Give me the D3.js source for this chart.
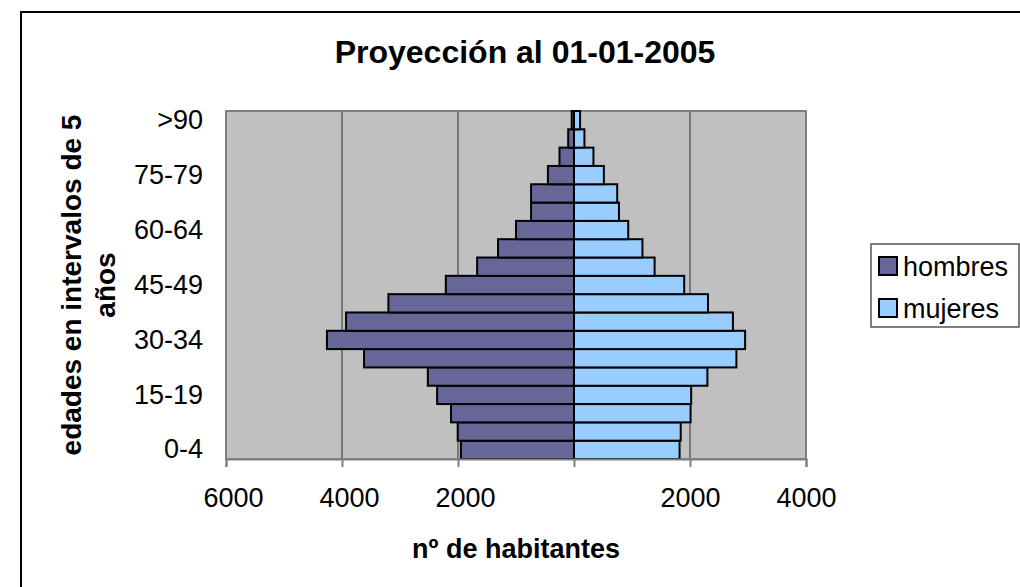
<!DOCTYPE html>
<html>
<head>
<meta charset="utf-8">
<script src="https://cdn.jsdelivr.net/npm/d3@7"></script>
<style>
  body { margin: 0; background: #fff; }
  svg { display: block; font-family: Arial, "Liberation Sans", sans-serif; }
</style>
</head>
<body>
<svg></svg>
<script>
// age groups, from the bottom of the pyramid up
const ages = ["0-4", "5-9", "10-14", "15-19", "20-24", "25-29", "30-34", "35-39", "40-44",
  "45-49", "50-54", "55-59", "60-64", "65-69", "70-74", "75-79", "80-84", "85-89", ">90"];
const hombres = [1950, 2005, 2120, 2360, 2520, 3620, 4260, 3930, 3200, 2210,
  1670, 1310, 1000, 740, 740, 450, 250, 100, 40];
const mujeres = [1820, 1840, 2010, 2020, 2300, 2800, 2950, 2740, 2310, 1900,
  1390, 1180, 935, 775, 745, 515, 335, 180, 105];
const xTicks = [-6000, -4000, -2000, 0, 2000, 4000];
const yLabels = ["0-4", "15-19", "30-34", "45-49", "60-64", "75-79", ">90"];
const series = ["hombres", "mujeres"];

const W = 1020, H = 587;
const svg = d3.select("svg").attr("width", W).attr("height", H);

const colour = d3.scaleOrdinal().domain(series).range(["#666699", "#99ccff"]);

const plot = { left: 226, right: 806, top: 111, bottom: 459 };

const x = d3.scaleLinear()
  .domain([-6000, 4000])
  .range([plot.left, plot.right]);

const y = d3.scaleBand()
  .domain(ages)
  .range([plot.bottom, plot.top])
  .padding(0);

// outer chart frame
svg.append("rect")
  .attr("x", 21).attr("y", 12)
  .attr("width", 1100).attr("height", 700)
  .attr("fill", "none")
  .attr("stroke", "#000")
  .attr("stroke-width", 2);

// title
svg.append("text")
  .attr("x", 525).attr("y", 63)
  .attr("text-anchor", "middle")
  .style("font-size", "32px")
  .style("font-weight", "bold")
  .text("Proyección al 01-01-2005");

// plot background
svg.append("rect")
  .attr("x", plot.left).attr("y", plot.top)
  .attr("width", plot.right - plot.left)
  .attr("height", plot.bottom - plot.top)
  .attr("fill", "#c0c0c0");

// vertical gridlines
svg.append("g")
  .selectAll("line")
  .data(xTicks.filter(d => d !== 0 && d !== -6000 && d !== 4000))
  .enter()
  .append("line")
  .attr("x1", d => x(d)).attr("x2", d => x(d))
  .attr("y1", plot.top).attr("y2", plot.bottom)
  .attr("stroke", "#333")
  .attr("stroke-width", 1);

// plot border
svg.append("rect")
  .attr("x", plot.left).attr("y", plot.top)
  .attr("width", plot.right - plot.left)
  .attr("height", plot.bottom - plot.top)
  .attr("fill", "none")
  .attr("stroke", "#808080")
  .attr("stroke-width", 2);

// bars
const rows = ages.map((a, i) => ({ age: a, hombres: hombres[i], mujeres: mujeres[i] }));

svg.append("g")
  .selectAll("rect")
  .data(rows)
  .enter()
  .append("rect")
  .attr("x", d => x(-d.hombres))
  .attr("y", d => y(d.age))
  .attr("width", d => x(0) - x(-d.hombres))
  .attr("height", y.bandwidth())
  .attr("fill", colour("hombres"))
  .attr("stroke", "#000")
  .attr("stroke-width", 2);

svg.append("g")
  .selectAll("rect")
  .data(rows)
  .enter()
  .append("rect")
  .attr("x", x(0))
  .attr("y", d => y(d.age))
  .attr("width", d => x(d.mujeres) - x(0))
  .attr("height", y.bandwidth())
  .attr("fill", colour("mujeres"))
  .attr("stroke", "#000")
  .attr("stroke-width", 2);

// x axis
const xAxis = svg.append("g")
  .attr("transform", `translate(0, ${plot.bottom})`)
  .call(d3.axisBottom(x)
    .tickValues(xTicks)
    .tickSize(8)
    .tickPadding(21)
    .tickFormat(d => d === 0 ? "" : Math.abs(d)));

xAxis.select(".domain").attr("stroke", "#808080").attr("stroke-width", 2);
xAxis.selectAll(".tick line").attr("stroke", "#808080").attr("stroke-width", 2);
xAxis.selectAll(".tick text")
  .attr("dx", d => d < 0 ? 7 : 0)
  .style("font-size", "27px")
  .style("font-family", "Arial, 'Liberation Sans', sans-serif")
  .attr("fill", "#000");

// y axis (labels only)
const yAxis = svg.append("g")
  .attr("transform", `translate(${plot.left}, 0)`)
  .call(d3.axisLeft(y)
    .tickValues(yLabels)
    .tickSize(0)
    .tickPadding(23));

yAxis.select(".domain").remove();
yAxis.selectAll(".tick text")
  .style("font-size", "27px")
  .style("font-family", "Arial, 'Liberation Sans', sans-serif")
  .attr("fill", "#000");

// axis titles
svg.append("text")
  .attr("x", (plot.left + plot.right) / 2)
  .attr("y", 558)
  .attr("text-anchor", "middle")
  .style("font-size", "27px")
  .style("font-weight", "bold")
  .text("nº de habitantes");

const yTitle = svg.append("text")
  .attr("transform", `translate(81, ${(plot.top + plot.bottom) / 2}) rotate(-90)`)
  .attr("text-anchor", "middle")
  .style("font-size", "28px")
  .style("font-weight", "bold");

yTitle.append("tspan").attr("x", 0).attr("y", 0).text("edades en intervalos de 5");
yTitle.append("tspan").attr("x", 0).attr("y", 34).text("años");

// legend
const legend = svg.append("g");

legend.append("rect")
  .attr("x", 871).attr("y", 244)
  .attr("width", 148).attr("height", 83)
  .attr("fill", "#fff")
  .attr("stroke", "#555")
  .attr("stroke-width", 1.5);

const items = legend.selectAll("g.item")
  .data(series)
  .enter()
  .append("g")
  .attr("class", "item")
  .attr("transform", (d, i) => `translate(879, ${257 + i * 42})`);

items.append("rect")
  .attr("width", 18).attr("height", 18)
  .attr("fill", d => colour(d))
  .attr("stroke", "#000")
  .attr("stroke-width", 2);

items.append("text")
  .attr("x", 24).attr("y", 19)
  .style("font-size", "27px")
  .text(d => d);
</script>
</body>
</html>
